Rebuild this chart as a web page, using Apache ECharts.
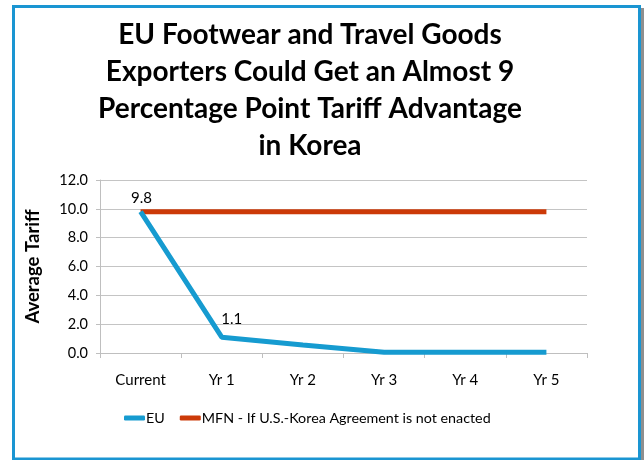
<!DOCTYPE html>
<html><head><meta charset="utf-8">
<script src="https://cdn.jsdelivr.net/npm/echarts@6/dist/echarts.min.js"></script>
<style>html,body{margin:0;padding:0;background:#fff}#c{width:644px;height:460px}</style>
</head><body><div id="c"></div>
<script>
const categories = ['Current', 'Yr 1', 'Yr 2', 'Yr 3', 'Yr 4', 'Yr 5'];
const euValues = [9.8, 1.1, 0.55, 0.05, 0.05, 0.05];
const mfnValues = [9.8, 9.8, 9.8, 9.8, 9.8, 9.8];
const yTicks = [0, 2, 4, 6, 8, 10, 12];
const titleLines = ['EU Footwear and Travel Goods', 'Exporters Could Get an Almost 9', 'Percentage Point Tariff Advantage', 'in Korea'];
const seriesNames = ['EU', 'MFN - If U.S.-Korea Agreement is not enacted'];

const chart = echarts.init(document.getElementById('c'));
const FONT = 'Lato';
const euData = euValues.map((v, i) => {
  if (i === 0) return {value: v, label: {show: true, offset: [1, -1]}};
  if (i === 1) return {value: v, label: {show: true, offset: [10, -5]}};
  return v;
});
chart.setOption({
  backgroundColor: '#fff',
  animation: false,
  title: {
    text: titleLines.join('\n'),
    left: 305, textAlign: 'center', top: 11,
    textStyle: {fontFamily: FONT, fontWeight: 'bold', fontSize: 28, lineHeight: 37, color: '#000'}
  },
  grid: {left: 100, right: 57, top: 180, bottom: 107},
  legend: {
    left: 119, top: 406, itemGap: 15, itemWidth: 21, itemHeight: 5, icon: 'roundRect',
    textStyle: {fontFamily: FONT, fontSize: 14.3, color: '#000', padding: [0, 0, 0, -4]},
    data: seriesNames
  },
  xAxis: {
    type: 'category', data: categories, boundaryGap: true,
    axisLine: {lineStyle: {color: '#bfbfbf', width: 1}},
    axisTick: {show: true, interval: 0, length: 5, lineStyle: {color: '#bfbfbf'}},
    axisLabel: {fontFamily: FONT, fontSize: 15, color: '#000', margin: 20, interval: 0}
  },
  yAxis: {
    type: 'value', min: 0, max: 12, interval: 2,
    name: 'Average Tariff', nameLocation: 'middle', nameGap: 57, nameRotate: 90,
    nameTextStyle: {fontFamily: FONT, fontWeight: 'bold', fontSize: 18.5, color: '#000'},
    axisLine: {show: true, lineStyle: {color: '#bfbfbf'}},
    axisTick: {show: true, length: 4, lineStyle: {color: '#bfbfbf'}},
    splitLine: {lineStyle: {color: '#c4c4c4'}},
    axisLabel: {fontFamily: FONT, fontSize: 14.5, color: '#000', margin: 12,
      formatter: v => yTicks.includes(v) ? v.toFixed(1) : ''}
  },
  series: [
    {name: seriesNames[0], type: 'line', data: euData, symbol: 'circle', symbolSize: 0.1, showSymbol: true, z: 3,
     lineStyle: {color: '#169bd0', width: 5}, itemStyle: {color: '#169bd0'},
     label: {show: false, position: 'top', fontFamily: FONT, fontSize: 15, color: '#000',
       formatter: p => p.value.toFixed(1)}},
    {name: seriesNames[1], type: 'line', data: mfnValues, symbol: 'none', z: 2,
     lineStyle: {color: '#cc3a08', width: 5}, itemStyle: {color: '#cc3a08'}}
  ],
  graphic: [
    {type: 'rect', shape: {x: 641, y: 8, width: 3, height: 452}, style: {fill: '#8f8f8f'}, silent: true},
    {type: 'rect', shape: {x: 13.5, y: 6.5, width: 626, height: 452.5},
     style: {fill: 'none', stroke: '#1a95d2', lineWidth: 3}, silent: true}
  ]
});
</script></body></html>
